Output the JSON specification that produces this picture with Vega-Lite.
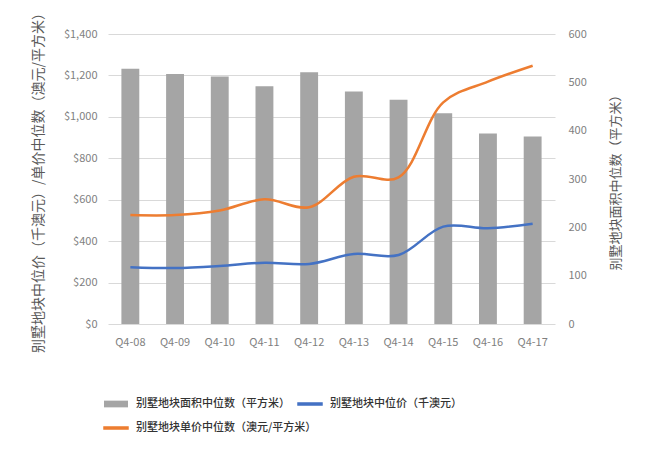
{
  "$schema": "https://vega.github.io/schema/vega-lite/v6.json",
  "width": 447,
  "height": 290,
  "autosize": "none",
  "padding": {"left": 108, "top": 34, "right": 95, "bottom": 129},
  "background": "white",
  "config": {
    "font": "Noto Sans CJK SC",
    "view": {"stroke": null},
    "axis": {
      "domain": false,
      "ticks": false,
      "labelColor": "#7f7f7f",
      "labelFontSize": 11,
      "titleColor": "#595959",
      "titleFontSize": 13,
      "titleFontWeight": "normal"
    },
    "legend": {
      "title": null,
      "orient": "none",
      "symbolSize": 576,
      "labelOffset": 7,
      "labelFontSize": 11,
      "labelFontWeight": 500,
      "labelColor": "#333333",
      "labelLimit": 300
    }
  },
  "data": {
    "values": [
      {"q": "Q4-08", "series": "别墅地块面积中位数（平方米）", "value": 528},
      {"q": "Q4-09", "series": "别墅地块面积中位数（平方米）", "value": 517},
      {"q": "Q4-10", "series": "别墅地块面积中位数（平方米）", "value": 512},
      {"q": "Q4-11", "series": "别墅地块面积中位数（平方米）", "value": 492},
      {"q": "Q4-12", "series": "别墅地块面积中位数（平方米）", "value": 521},
      {"q": "Q4-13", "series": "别墅地块面积中位数（平方米）", "value": 481},
      {"q": "Q4-14", "series": "别墅地块面积中位数（平方米）", "value": 464},
      {"q": "Q4-15", "series": "别墅地块面积中位数（平方米）", "value": 436},
      {"q": "Q4-16", "series": "别墅地块面积中位数（平方米）", "value": 394},
      {"q": "Q4-17", "series": "别墅地块面积中位数（平方米）", "value": 388},
      {"q": "Q4-08", "series": "别墅地块中位价（千澳元）", "value": 274},
      {"q": "Q4-09", "series": "别墅地块中位价（千澳元）", "value": 270},
      {"q": "Q4-10", "series": "别墅地块中位价（千澳元）", "value": 280},
      {"q": "Q4-11", "series": "别墅地块中位价（千澳元）", "value": 296},
      {"q": "Q4-12", "series": "别墅地块中位价（千澳元）", "value": 290},
      {"q": "Q4-13", "series": "别墅地块中位价（千澳元）", "value": 338},
      {"q": "Q4-14", "series": "别墅地块中位价（千澳元）", "value": 333},
      {"q": "Q4-15", "series": "别墅地块中位价（千澳元）", "value": 470},
      {"q": "Q4-16", "series": "别墅地块中位价（千澳元）", "value": 462},
      {"q": "Q4-17", "series": "别墅地块中位价（千澳元）", "value": 484},
      {"q": "Q4-08", "series": "别墅地块单价中位数（澳元/平方米）", "value": 526},
      {"q": "Q4-09", "series": "别墅地块单价中位数（澳元/平方米）", "value": 526},
      {"q": "Q4-10", "series": "别墅地块单价中位数（澳元/平方米）", "value": 548},
      {"q": "Q4-11", "series": "别墅地块单价中位数（澳元/平方米）", "value": 602},
      {"q": "Q4-12", "series": "别墅地块单价中位数（澳元/平方米）", "value": 564},
      {"q": "Q4-13", "series": "别墅地块单价中位数（澳元/平方米）", "value": 711},
      {"q": "Q4-14", "series": "别墅地块单价中位数（澳元/平方米）", "value": 708},
      {"q": "Q4-15", "series": "别墅地块单价中位数（澳元/平方米）", "value": 1070},
      {"q": "Q4-16", "series": "别墅地块单价中位数（澳元/平方米）", "value": 1170},
      {"q": "Q4-17", "series": "别墅地块单价中位数（澳元/平方米）", "value": 1247}
    ]
  },
  "encoding": {
    "x": {
      "field": "q",
      "type": "ordinal",
      "scale": {"paddingInner": 0.6, "paddingOuter": 0.3},
      "axis": {"title": null, "labelAngle": 0, "labelPadding": 12, "grid": false}
    }
  },
  "layer": [
    {
      "transform": [{"filter": "datum.series === '别墅地块面积中位数（平方米）'"}],
      "mark": {"type": "bar"},
      "encoding": {
        "y": {
          "field": "value",
          "type": "quantitative",
          "scale": {"domain": [0, 600]},
          "axis": {
            "orient": "right",
            "grid": false,
            "values": [0, 100, 200, 300, 400, 500, 600],
            "labelPadding": 13,
            "title": "别墅地块面积中位数（平方米）",
            "titleAngle": 270,
            "titlePadding": 36
          }
        },
        "fill": {
          "field": "series",
          "type": "nominal",
          "scale": {"range": ["#a5a5a5"]},
          "legend": {
            "legendX": -5,
            "legendY": 357,
            "encode": {
              "symbols": {
                "update": {
                  "shape": {"value": "M-1,-0.28H1V0.28H-1Z"},
                  "fill": {"value": "#a5a5a5"},
                  "stroke": {"value": "transparent"}
                }
              }
            }
          }
        }
      }
    },
    {
      "layer": [
        {
          "transform": [{"filter": "datum.series === '别墅地块中位价（千澳元）'"}],
          "mark": {"type": "line", "interpolate": "catmull-rom", "strokeWidth": 2.5},
          "encoding": {
            "y": {
              "field": "value",
              "type": "quantitative",
              "scale": {"domain": [0, 1400]},
              "axis": {
                "orient": "left",
                "grid": true,
                "gridColor": "#d9d9d9",
                "values": [0, 200, 400, 600, 800, 1000, 1200, 1400],
                "format": "$,.0f",
                "labelPadding": 11,
                "title": "别墅地块中位价（千澳元）/单价中位数（澳元/平方米）",
                "titleFontSize": 14,
                "titlePadding": 18
              }
            },
            "stroke": {
              "field": "series",
              "type": "nominal",
              "scale": {"range": ["#4472c4"]},
              "legend": {
                "legendX": 189,
                "legendY": 357,
                "encode": {
                  "symbols": {
                    "update": {
                      "shape": {"value": "M-1,-0.09H1V0.09H-1Z"},
                      "fill": {"value": "#4472c4"},
                      "stroke": {"value": "transparent"},
                      "opacity": {"value": 1}
                    }
                  }
                }
              }
            }
          }
        },
        {
          "transform": [{"filter": "datum.series === '别墅地块单价中位数（澳元/平方米）'"}],
          "mark": {"type": "line", "interpolate": "catmull-rom", "strokeWidth": 2.5},
          "encoding": {
            "y": {"field": "value", "type": "quantitative"},
            "color": {
              "field": "series",
              "type": "nominal",
              "scale": {"range": ["#ed7d31"]},
              "legend": {
                "legendX": -5,
                "legendY": 381,
                "encode": {
                  "symbols": {
                    "update": {
                      "shape": {"value": "M-1,-0.09H1V0.09H-1Z"},
                      "fill": {"value": "#ed7d31"},
                      "stroke": {"value": "transparent"},
                      "opacity": {"value": 1}
                    }
                  }
                }
              }
            }
          }
        }
      ]
    }
  ],
  "resolve": {"scale": {"y": "independent"}}
}
